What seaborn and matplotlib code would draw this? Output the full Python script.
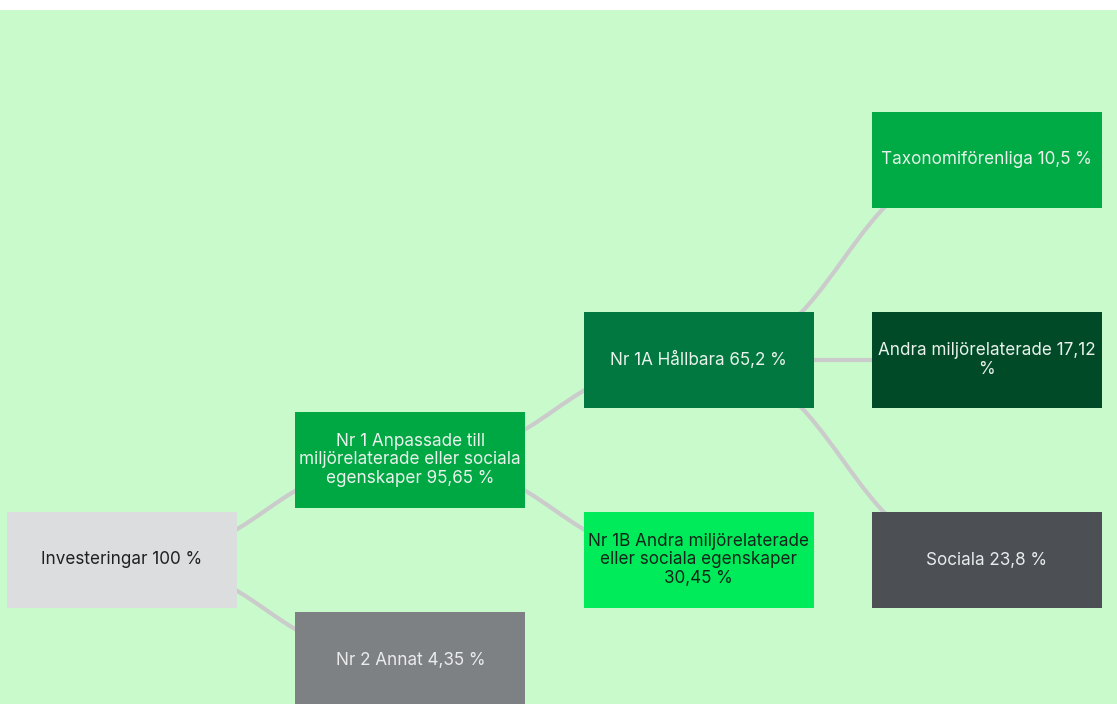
import matplotlib
matplotlib.use("Agg")
import matplotlib.pyplot as plt
import seaborn as sns
from matplotlib.patches import Rectangle, PathPatch
from matplotlib.path import Path
from matplotlib.font_manager import FontProperties

sns.set_theme(style="white")
plt.rcParams['font.family'] = ['Inter', 'DejaVu Sans']

# --- tree data ---
names = ["Investeringar",
         "Nr 1 Anpassade till miljörelaterade eller sociala egenskaper",
         "Nr 2 Annat",
         "Nr 1A Hållbara",
         "Nr 1B Andra miljörelaterade eller sociala egenskaper",
         "Taxonomiförenliga",
         "Andra miljörelaterade",
         "Sociala"]
values = [100, 95.65, 4.35, 65.2, 30.45, 10.5, 17.12, 23.8]
parents = [None, 0, 0, 1, 1, 3, 3, 3]

box_colors = ["#DCDDDF", "#00A843", "#7E8184", "#00783F",
              "#00EB5A", "#00AA45", "#004A28", "#4C5054"]
text_colors = ["#1E2124", "#EAF2EC", "#EAEBEC", "#EAF2EC",
               "#10261A", "#EAF2EC", "#EAF2EC", "#EAEBEC"]

# --- layout: depth from parents, siblings spread two slots apart around the parent ---
n = len(names)
depth = [0] * n
slot = [0.0] * n
for i in range(n):
    p = parents[i]
    if p is None:
        continue
    depth[i] = depth[p] + 1
    sibs = [j for j in range(n) if parents[j] == p]
    k = sibs.index(i)
    slot[i] = slot[p] + (len(sibs) - 1) - 2 * k

fig = plt.figure(figsize=(11.17, 7.04), dpi=100, facecolor="white")
ax = fig.add_axes([0, 0, 1, 694 / 704])
ax.set_facecolor("#C8FACC")
for s in ax.spines.values():
    s.set_visible(False)
ax.set_xticks([])
ax.set_yticks([])

xstep = 288.3  # px per level
ax.set_xlim(-122 / xstep, (1117 - 122) / xstep)
ax.set_ylim(-1.44, 5.5)
bw, bh = 230 / xstep, 0.96

# links (horizontal bezier, centre to centre)
for i in range(n):
    p = parents[i]
    if p is None:
        continue
    x0, y0, x1, y1 = depth[p], slot[p], depth[i], slot[i]
    xm = (x0 + x1) / 2
    path = Path([(x0, y0), (xm, y0), (xm, y1), (x1, y1)],
                [Path.MOVETO, Path.CURVE4, Path.CURVE4, Path.CURVE4])
    ax.add_patch(PathPatch(path, facecolor="none", edgecolor="#CBCBCB",
                           lw=3.0, zorder=1))

renderer = fig.canvas.get_renderer()
fsize = 12.3
prop = FontProperties(family=['Inter', 'DejaVu Sans'], size=fsize)


def text_w(s):
    w, _, _ = renderer.get_text_width_height_descent(s, prop, ismath=False)
    return w


def wrap(label, maxw=228):
    words = label.split(" ")
    lines = [words[0]]
    for w in words[1:]:
        trial = lines[-1] + " " + w
        if text_w(trial) <= maxw:
            lines[-1] = trial
        else:
            lines.append(w)
    return "\n".join(lines)


for i in range(n):
    cx, cy = depth[i], slot[i]
    ax.add_patch(Rectangle((cx - bw / 2, cy - bh / 2), bw, bh,
                           facecolor=box_colors[i], edgecolor="none", zorder=2))
    val = f"{values[i]:g}".replace(".", ",")
    label = wrap(f"{names[i]} {val} %")
    ax.text(cx, cy, label, ha="center", va="center", fontsize=fsize,
            color=text_colors[i], linespacing=1.08, zorder=3,
            family=['Inter', 'DejaVu Sans'])

fig.savefig("out.png", dpi=100, facecolor="white")
